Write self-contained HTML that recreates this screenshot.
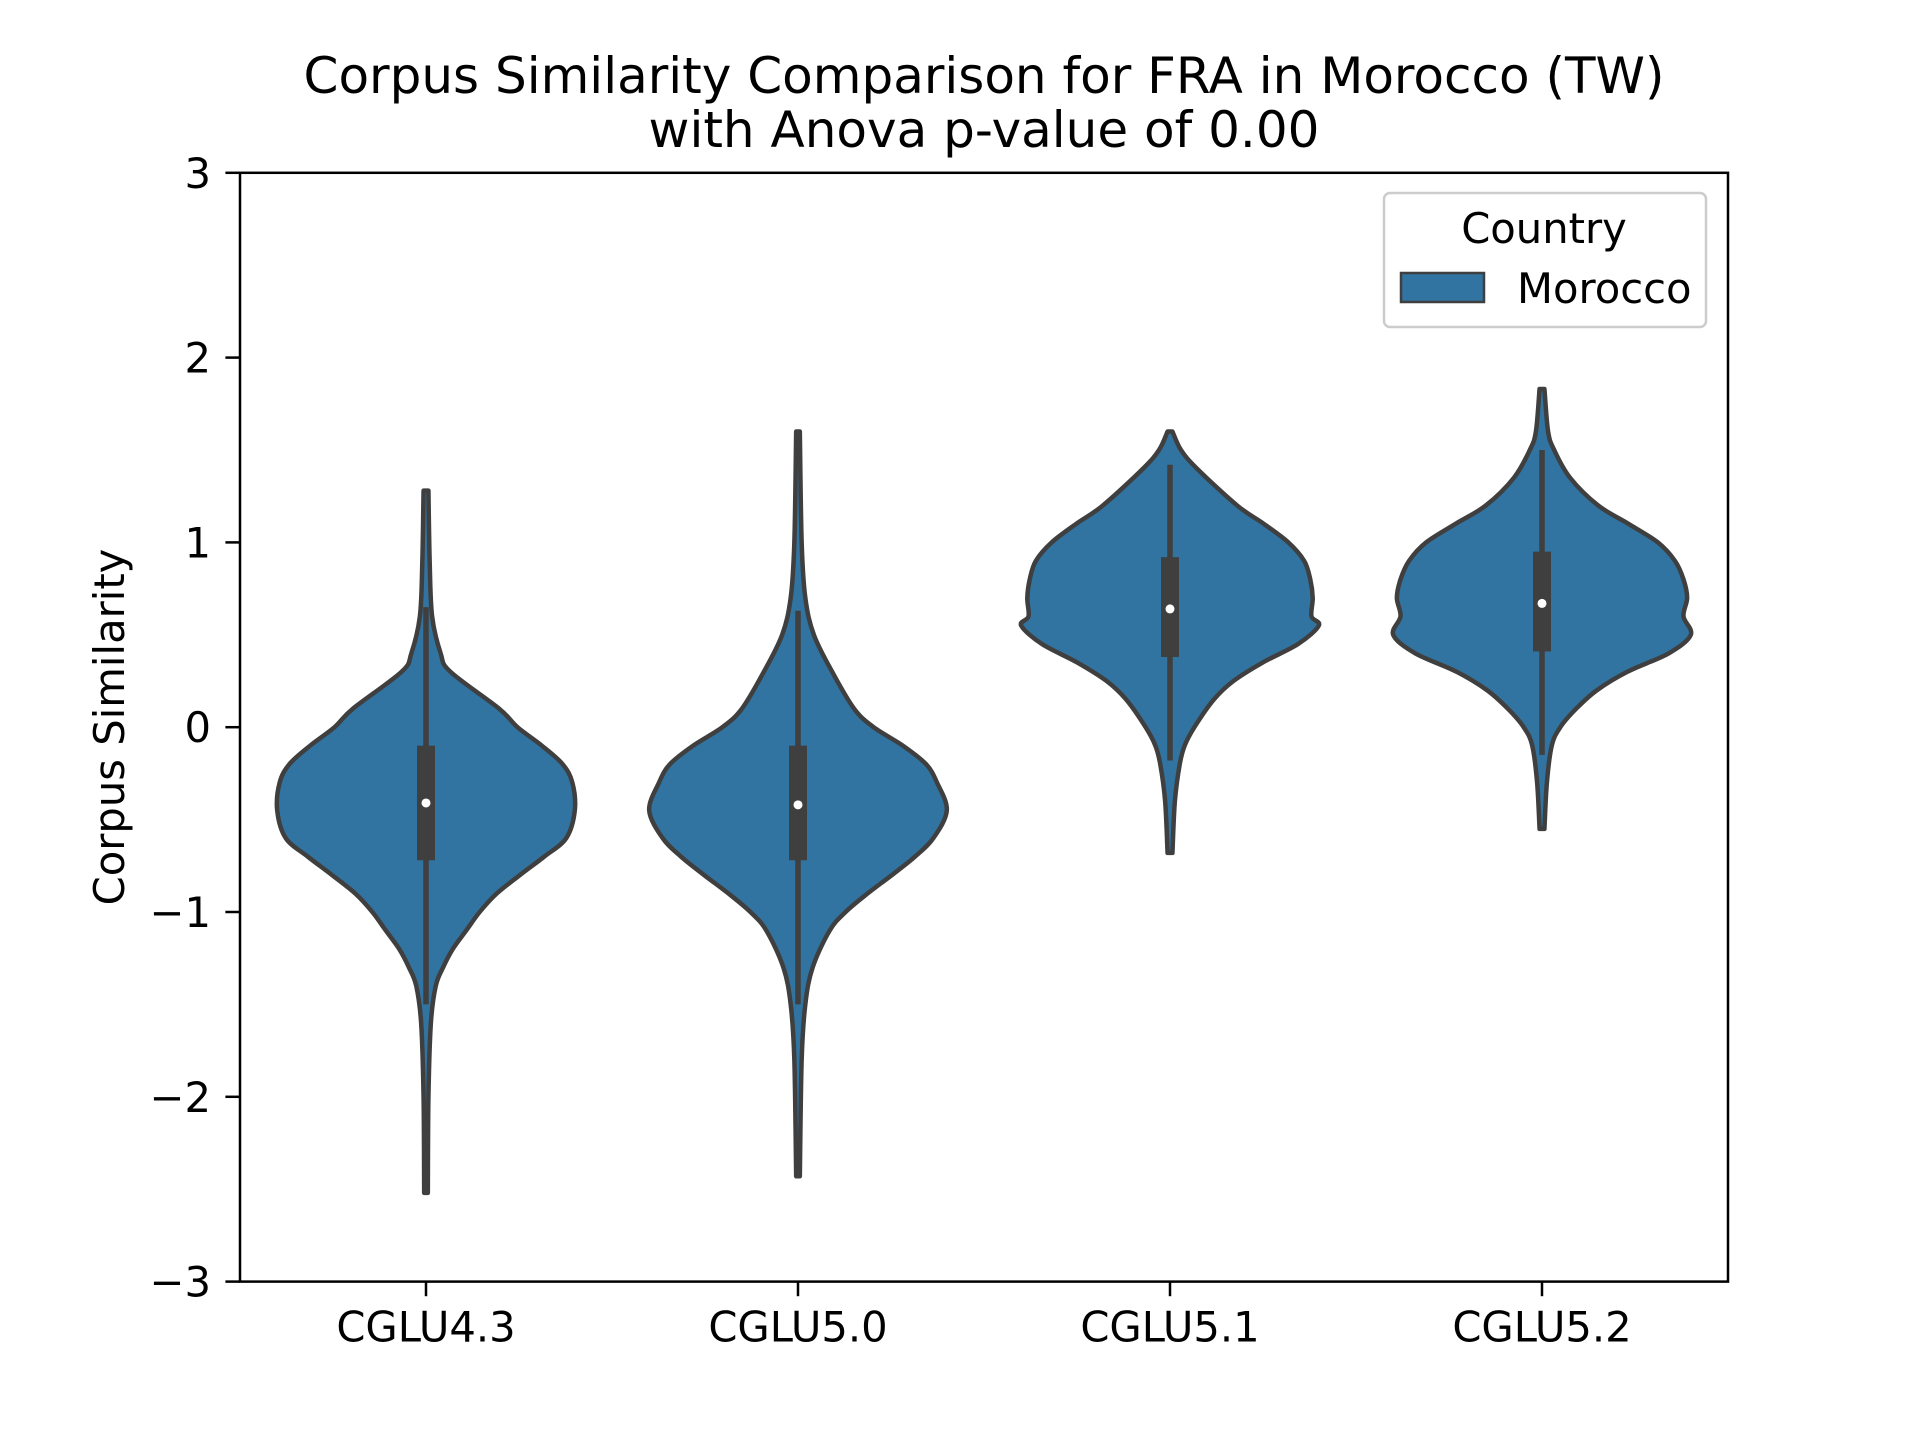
<!DOCTYPE html>
<html><head><meta charset="utf-8"><style>
html,body{margin:0;padding:0;background:#fff;}
svg text{font-family:"DejaVu Sans","Liberation Sans",sans-serif;fill:#000;}
</style></head><body>
<svg width="1920" height="1440" viewBox="0 0 1920 1440" xmlns="http://www.w3.org/2000/svg">
<text x="984" y="93" font-size="50" text-anchor="middle">Corpus Similarity Comparison for FRA in Morocco (TW)</text>
<text x="984" y="147" font-size="50" text-anchor="middle">with Anova p-value of 0.00</text>
<g id="plot"></g>
<text transform="translate(124,727) rotate(-90)" font-size="41.7" text-anchor="middle">Corpus Similarity</text>
<g>
<rect x="1384" y="193" width="322" height="134" rx="6" fill="#fff" stroke="#ccc" stroke-width="2.5"/>
<text x="1544" y="243" font-size="41.7" text-anchor="middle">Country</text>
<rect x="1401" y="273" width="83" height="29" fill="#3274a1" stroke="#3f3f3f" stroke-width="2.5"/>
<text x="1517" y="303" font-size="41.7">Morocco</text>
</g>
</svg>
<script>
const categories = ["CGLU4.3","CGLU5.0","CGLU5.1","CGLU5.2"];
const yTicks = [-3,-2,-1,0,1,2,3];
const yTickLabels = ["\u22123","\u22122","\u22121","0","1","2","3"];
// density profiles: [y value, relative density]
const profile43 = [[1.28,2],[0.9,3],[0.6,5],[0.4,12],[0.3,20],[0.1,60],[0,75],[-0.1,95],[-0.2,112],[-0.3,120],[-0.45,122],[-0.6,115],[-0.7,97],[-0.8,77],[-0.9,58],[-1.0,44],[-1.1,33],[-1.2,22],[-1.3,14],[-1.4,8],[-1.6,4],[-2.0,2],[-2.52,1.5]];
const profile50 = [[1.6,1.5],[1.0,3],[0.7,6],[0.5,13],[0.3,28],[0.1,46],[0,62],[-0.1,86],[-0.2,105],[-0.3,114],[-0.45,122],[-0.6,111],[-0.7,96],[-0.8,77],[-0.9,57],[-1.0,39],[-1.1,26],[-1.3,12],[-1.5,6],[-1.8,3],[-2.43,1.5]];
const profile51 = [[1.6,2],[1.5,9],[1.4,22],[1.2,55],[1.1,77],[1.0,97],[0.9,110],[0.8,115],[0.7,117],[0.6,116],[0.55,122],[0.45,105],[0.35,76],[0.25,52],[0.15,36],[0.0,20],[-0.1,12],[-0.2,8],[-0.4,4],[-0.68,2]];
const profile52 = [[1.83,2],[1.6,5],[1.5,10],[1.35,23],[1.2,46],[1.1,71],[1.0,95],[0.9,109],[0.8,116],[0.7,119],[0.6,116],[0.5,122],[0.4,104],[0.3,70],[0.2,45],[0.1,28],[0,15],[-0.1,8],[-0.3,4],[-0.55,2]];
const profiles = [profile43, profile50, profile51, profile52];
const q1 = [-0.72,-0.72,0.38,0.41];
const q3 = [-0.1,-0.1,0.92,0.95];
const medians = [-0.41,-0.42,0.64,0.67];
const whiskerLow = [-1.5,-1.5,-0.18,-0.15];
const whiskerHigh = [0.65,0.63,1.42,1.5];

const L=240,R=1728,T=172.8,B=1281.6,yMin=-3,yMax=3;
const band=(R-L)/categories.length;
const xPos=i=>L+(i+0.5)*band;
const yPos=v=>B-(v-yMin)/(yMax-yMin)*(B-T);
const NS="http://www.w3.org/2000/svg";
const plot=document.getElementById('plot');
function mk(tag,attrs){const e=document.createElementNS(NS,tag);for(const k in attrs)e.setAttribute(k,attrs[k]);return e;}
function curve(pts){let d="";for(let i=0;i<pts.length-1;i++){const p0=pts[Math.max(i-1,0)],p1=pts[i],p2=pts[i+1],p3=pts[Math.min(i+2,pts.length-1)];const c1=[p1[0]+(p2[0]-p0[0])/6,p1[1]+(p2[1]-p0[1])/6],c2=[p2[0]-(p3[0]-p1[0])/6,p2[1]-(p3[1]-p1[1])/6];d+=" C"+c1[0]+","+c1[1]+" "+c2[0]+","+c2[1]+" "+p2[0]+","+p2[1];}return d;}
profiles.forEach((prof,i)=>{
  const cx=xPos(i),maxD=Math.max(...prof.map(p=>p[1])),hw=0.4*band;
  const right=prof.map(p=>[cx+p[1]/maxD*hw,yPos(p[0])]);
  const left=prof.map(p=>[cx-p[1]/maxD*hw,yPos(p[0])]).reverse();
  const d="M"+right[0][0]+","+right[0][1]+curve(right)+" L"+left[0][0]+","+left[0][1]+curve(left)+" Z";
  const v=mk('path',{d:d,fill:'#3274a1',stroke:'#3f3f3f','stroke-width':4.5,'stroke-linejoin':'round'});
  
  
  plot.appendChild(v);
  const w=mk('line',{x1:cx,x2:cx,y1:yPos(whiskerLow[i]),y2:yPos(whiskerHigh[i]),stroke:'#3f3f3f','stroke-width':5.5});
  
  
  plot.appendChild(w);
  const b=mk('rect',{x:cx-9,width:18,y:yPos(q3[i]),height:yPos(q1[i])-yPos(q3[i]),fill:'#3f3f3f'});
  
  
  plot.appendChild(b);
  const m=mk('circle',{cx:cx,cy:yPos(medians[i]),r:4.5,fill:'#fff'});
  
  
  plot.appendChild(m);
});
const frame=mk('rect',{x:L,y:T,width:R-L,height:B-T,fill:'none',stroke:'#000','stroke-width':2.5});


plot.appendChild(frame);
yTicks.forEach((t,i)=>{
  const y=yPos(t);
  const tk=mk('line',{x1:L-14.6,x2:L,y1:y,y2:y,stroke:'#000','stroke-width':2.5});
  
  
  plot.appendChild(tk);
  const tx=mk('text',{x:L-29,y:y+15,'font-size':41.7,'text-anchor':'end'});
  tx.textContent=yTickLabels[i];
  
  
  plot.appendChild(tx);
});
categories.forEach((c,i)=>{
  const x=xPos(i);
  const tk=mk('line',{x1:x,x2:x,y1:B,y2:B+14.6,stroke:'#000','stroke-width':2.5});
  
  
  plot.appendChild(tk);
  const tx=mk('text',{x:x,y:B+60,'font-size':41.7,'text-anchor':'middle'});
  tx.textContent=c;
  
  
  plot.appendChild(tx);
});
</script>
</body></html>
